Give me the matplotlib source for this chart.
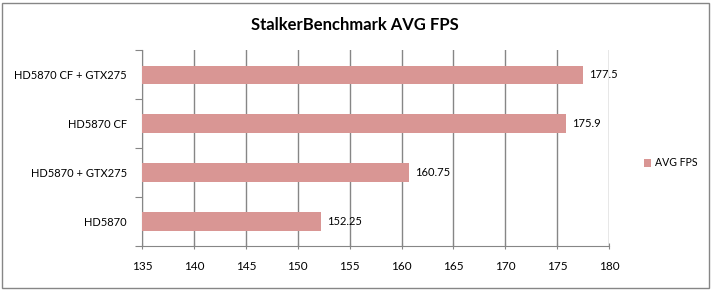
import matplotlib.pyplot as plt
from matplotlib.patches import Rectangle

# data
configs = ['HD5870', 'HD5870 + GTX275', 'HD5870 CF', 'HD5870 CF + GTX275']
avg_fps = [152.25, 160.75, 175.9, 177.5]
fps_labels = ['152.25', '160.75', '175.9', '177.5']
xticks = [135, 140, 145, 150, 155, 160, 165, 170, 175, 180]

bar_col = '#D99694'
grey = '#868686'

plt.rcParams['font.family'] = ['Lato', 'DejaVu Sans']

fig = plt.figure(figsize=(7.13, 2.91), dpi=100)
ax = fig.add_axes([142.3/713, 1-246/291, (609-142.3)/713, (246-50.4)/291])

ypos = range(len(configs))
ax.barh(ypos, avg_fps, height=0.38, color=bar_col, zorder=3, label='AVG FPS')
ax.set_xlim(135, 180)
ax.set_ylim(-0.5, len(configs) - 0.5)

for y, v, t in zip(ypos, avg_fps, fps_labels):
    ax.annotate(t, (v, y), xytext=(4, 0), textcoords='offset points',
                va='center', ha='left', fontsize=8)

ax.set_xticks(xticks)
ax.set_xticklabels([str(x) for x in xticks], fontsize=8.5)
# category boundaries get the tick marks, names sit in between
ax.set_yticks([y - 0.5 for y in range(len(configs) + 1)])
ax.set_yticklabels([''] * (len(configs) + 1))
ax.set_yticks(list(ypos), minor=True)
ax.set_yticklabels(configs, minor=True, fontsize=8)
ax.tick_params(axis='y', which='minor', length=0, pad=11)
ax.tick_params(axis='y', which='major', length=5, color=grey, direction='out')
ax.tick_params(axis='x', length=5, color=grey, direction='inout', pad=8)

ax.grid(axis='x', color=grey, linewidth=1, zorder=0)
for s in ['top', 'right']:
    ax.spines[s].set_visible(False)
for s in ['left', 'bottom']:
    ax.spines[s].set_color(grey)

fig.text(355/713, 1-25/291, 'StalkerBenchmark AVG FPS', ha='center', va='center',
         fontsize=12, fontweight='bold')

fig.legend(loc='center left', bbox_to_anchor=(634/713, 1-163/291), frameon=False,
           fontsize=7.6, handlelength=0.7, handleheight=0.7, handletextpad=0.4)

fig.patches.append(Rectangle((2/713, 3/291), 707/713, 285/291, transform=fig.transFigure,
                             fill=False, edgecolor=grey, linewidth=1))

fig.savefig('out.png', dpi=100)
